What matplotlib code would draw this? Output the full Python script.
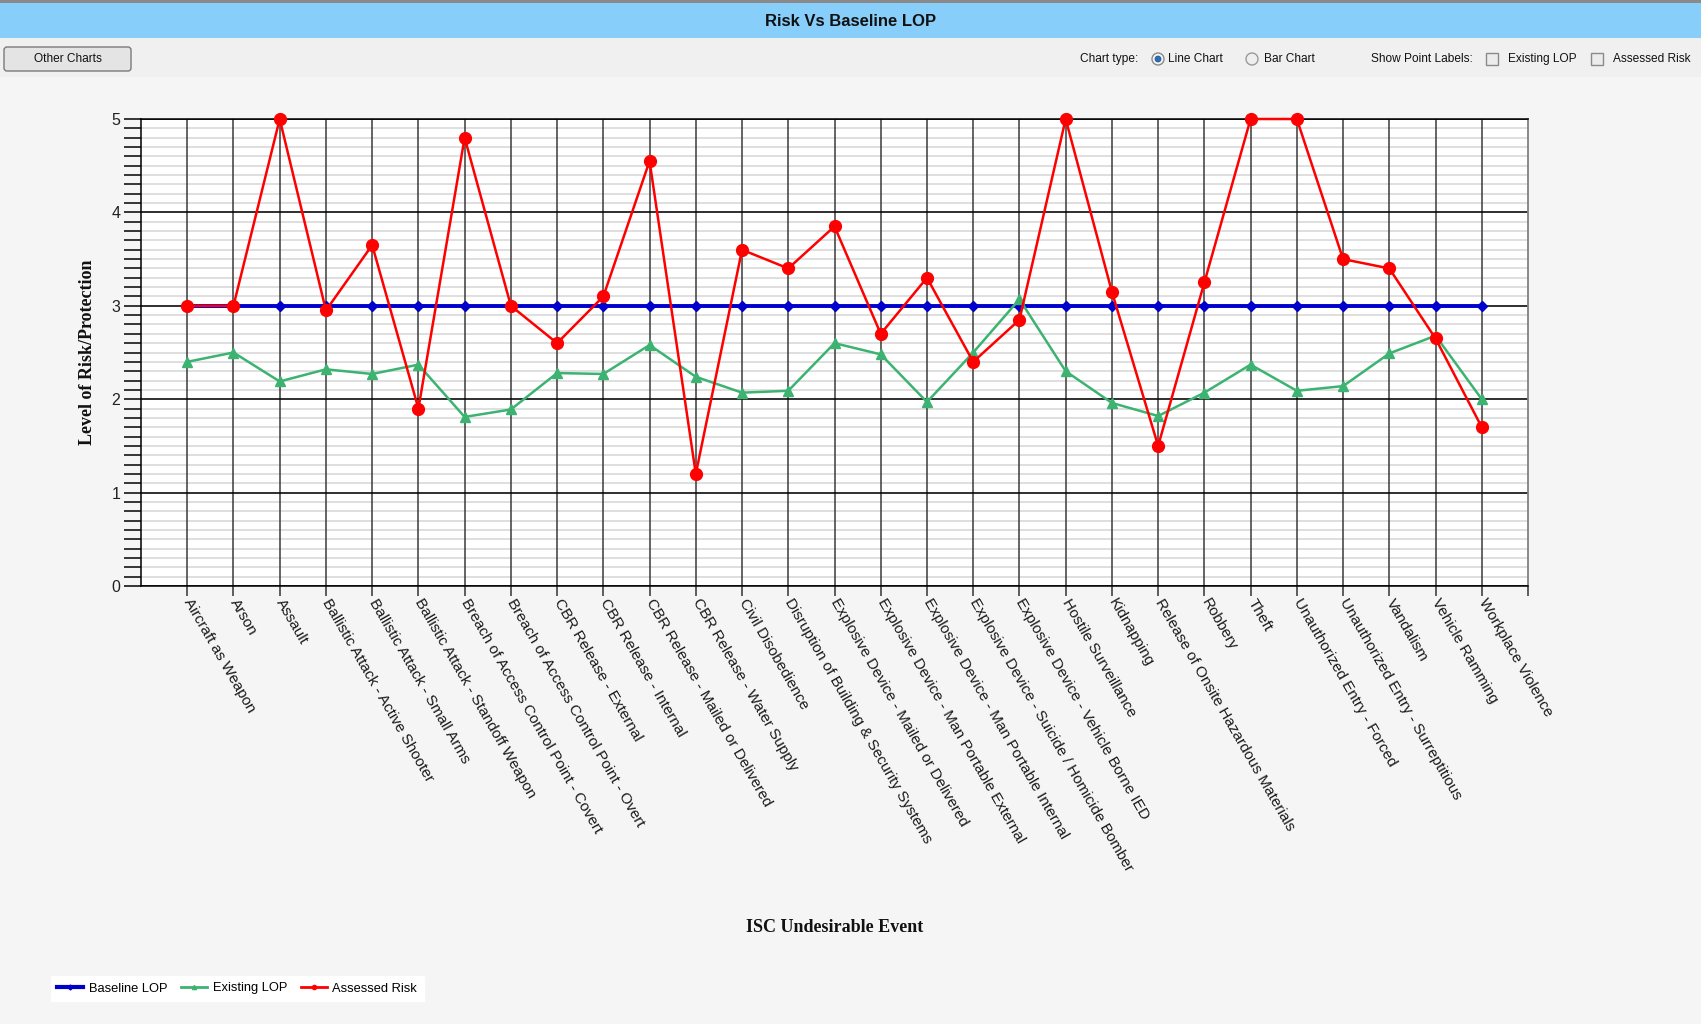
import matplotlib
matplotlib.use("Agg")
import matplotlib.pyplot as plt
from matplotlib.patches import Rectangle, FancyBboxPatch, Circle
from matplotlib.lines import Line2D
import numpy as np

# ---------------- data ----------------
categories = [
    "Aircraft as Weapon", "Arson", "Assault",
    "Ballistic Attack - Active Shooter", "Ballistic Attack - Small Arms",
    "Ballistic Attack - Standoff Weapon",
    "Breach of Access Control Point - Covert",
    "Breach of Access Control Point - Overt",
    "CBR Release - External", "CBR Release - Internal",
    "CBR Release - Mailed or Delivered", "CBR Release - Water Supply",
    "Civil Disobedience", "Disruption of Building & Security Systems",
    "Explosive Device - Mailed or Delivered",
    "Explosive Device - Man Portable External",
    "Explosive Device - Man Portable Internal",
    "Explosive Device - Suicide / Homicide Bomber",
    "Explosive Device - Vehicle Borne IED", "Hostile Surveillance",
    "Kidnapping", "Release of Onsite Hazardous Materials", "Robbery", "Theft",
    "Unauthorized Entry - Forced", "Unauthorized Entry - Surreptitious",
    "Vandalism", "Vehicle Ramming", "Workplace Violence",
]
baseline_lop = [3.0, 3.0, 3.0, 3.0, 3.0, 3.0, 3.0, 3.0, 3.0, 3.0,
                3.0, 3.0, 3.0, 3.0, 3.0, 3.0, 3.0, 3.0, 3.0, 3.0,
                3.0, 3.0, 3.0, 3.0, 3.0, 3.0, 3.0, 3.0, 3.0]
existing_lop = [2.40, 2.50, 2.19, 2.32, 2.27, 2.37, 1.81, 1.89, 2.28, 2.27,
                2.58, 2.24, 2.07, 2.09, 2.60, 2.48, 1.97, 2.50, 3.07, 2.30,
                1.96, 1.82, 2.07, 2.37, 2.09, 2.14, 2.49, 2.68, 2.00]
assessed_risk = [3.00, 3.00, 5.00, 2.95, 3.65, 1.90, 4.80, 3.00, 2.60, 3.10,
                 4.55, 1.20, 3.60, 3.40, 3.85, 2.70, 3.30, 2.40, 2.85, 5.00,
                 3.15, 1.50, 3.25, 5.00, 5.00, 3.50, 3.40, 2.65, 1.70]
y_ticks = [0, 1, 2, 3, 4, 5]
series_names = ["Baseline LOP", "Existing LOP", "Assessed Risk"]

# ---------------- figure ----------------
W, H = 1701, 1024
plt.rcParams["font.family"] = ["Liberation Sans", "DejaVu Sans"]
fig = plt.figure(figsize=(W / 100, H / 100), dpi=100, facecolor="#f5f5f5")

# UI overlay in pixel coordinates
ui = fig.add_axes([0, 0, 1, 1])
ui.set_xlim(0, W)
ui.set_ylim(H, 0)
ui.axis("off")
ui.set_zorder(0)

ui.add_patch(Rectangle((0, 0), W, 3, fc="#8a8a8a", ec="none"))
ui.add_patch(Rectangle((0, 3), W, 35, fc="#87cefa", ec="none"))
ui.add_patch(Rectangle((0, 38), W, 39, fc="#f0f0f0", ec="none"))
ui.text(W / 2, 21, "Risk Vs Baseline LOP", ha="center", va="center",
        fontsize=12, fontweight="bold", color="#111111")

# button
ui.add_patch(FancyBboxPatch((4, 47), 127, 24,
                            boxstyle="round,pad=0,rounding_size=3",
                            fc="#e4e4e4", ec="#7a7a7a", lw=1))
ui.text(67.5, 59.5, "Other Charts", ha="center", va="center", fontsize=8.6,
        color="#111111")

# right-hand controls
ty = 59
ui.text(1080, ty, "Chart type:", ha="left", va="center", fontsize=8.6, color="#111111")
ui.add_patch(Circle((1158, ty), 6, fc="#f4f4f4", ec="#8a8a8a", lw=1))
ui.add_patch(Circle((1158, ty), 3, fc="#2a6fb5", ec="#1c4f88", lw=0.5))
ui.text(1168, ty, "Line Chart", ha="left", va="center", fontsize=8.6, color="#111111")
ui.add_patch(Circle((1252, ty), 6, fc="#eeeeee", ec="#9a9a9a", lw=1))
ui.text(1264, ty, "Bar Chart", ha="left", va="center", fontsize=8.6, color="#111111")
ui.text(1371, ty, "Show Point Labels:", ha="left", va="center", fontsize=8.6, color="#111111")
ui.add_patch(Rectangle((1486, ty - 6), 12, 12, fc="#ececec", ec="#8a8a8a", lw=1))
ui.text(1508, ty, "Existing LOP", ha="left", va="center", fontsize=8.6, color="#111111")
ui.add_patch(Rectangle((1591, ty - 6), 12, 12, fc="#ececec", ec="#8a8a8a", lw=1))
ui.text(1613, ty, "Assessed Risk", ha="left", va="center", fontsize=8.6, color="#111111")

# ---------------- chart ----------------
L, R, T, B = 141, 1528, 119, 586
ax = fig.add_axes([L / W, 1 - B / H, (R - L) / W, (B - T) / H])
ax.set_zorder(1)
ax.set_facecolor("white")

x = np.arange(1, len(categories) + 1)
ax.plot(x, baseline_lop, color="#0000cd", lw=2.8, marker="D", ms=5,
        zorder=3, clip_on=False, label=series_names[0])
ax.plot(x, existing_lop, color="#3cb371", lw=1.8, marker="^", ms=7.5,
        zorder=4, clip_on=False, label=series_names[1])
ax.plot(x, assessed_risk, color="#ff0000", lw=1.8, marker="o", ms=8.5,
        zorder=5, clip_on=False, label=series_names[2])

ax.set_xlim(0, len(categories) + 1)
ax.set_ylim(0, 5)
ax.set_yticks(y_ticks)
minor_y = np.arange(0, 5.001, 0.1)
ax.set_yticks(minor_y, minor=True)
ax.set_xticks(x)
ax.set_xticks([len(categories) + 1], minor=True)
ax.set_xticklabels(categories, rotation=-60, ha="left", va="center",
                   rotation_mode="anchor", fontsize=11.0, color="#1a1a1a")
ax.tick_params(axis="x", which="both", direction="out", length=7, width=1.1,
               color="#333333", pad=3)
ax.tick_params(axis="y", which="both", direction="out", length=12, width=1.1,
               color="black", pad=3, labelsize=11.5, labelcolor="#222222")

ax.set_axisbelow(True)
# light minor horizontal lines underneath the major grid
ax.hlines(minor_y, 0, len(categories) + 1, colors="#dcdcdc", lw=1.3, zorder=0.3)
ax.grid(axis="y", which="major", color="black", lw=1.1)
ax.grid(axis="x", which="major", color="#3a3a3a", lw=1.1)
for s in ["left", "bottom", "top"]:
    ax.spines[s].set_color("black")
    ax.spines[s].set_linewidth(1.1)
ax.spines["right"].set_color("#808080")
ax.spines["right"].set_linewidth(1.3)

# axis titles
fig.text(87 / W, 1 - 352.5 / H, "Level of Risk/Protection", rotation=90,
         ha="center", va="center", fontsize=13, fontweight="bold",
         family=["Liberation Serif", "DejaVu Serif"], color="#111111")
fig.text(834.5 / W, 1 - 927 / H, "ISC Undesirable Event", ha="center",
         va="center", fontsize=13, fontweight="bold",
         family=["Liberation Serif", "DejaVu Serif"], color="#111111")

# legend
handles = [
    Line2D([], [], color="#0000cd", lw=3, marker="D", ms=2.5),
    Line2D([], [], color="#3cb371", lw=2, marker="^", ms=3),
    Line2D([], [], color="#ff0000", lw=2, marker="o", ms=3),
]
fig.legend(handles, series_names, loc="upper left",
           bbox_to_anchor=(51 / W, 1 - 976 / H), ncol=3, frameon=True,
           fancybox=False, edgecolor="white", facecolor="white", framealpha=1,
           fontsize=9.3, handlelength=2.0, handletextpad=0.45,
           columnspacing=1.05, borderpad=0.5, borderaxespad=0)

fig.savefig("out.png", dpi=100, facecolor=fig.get_facecolor())
